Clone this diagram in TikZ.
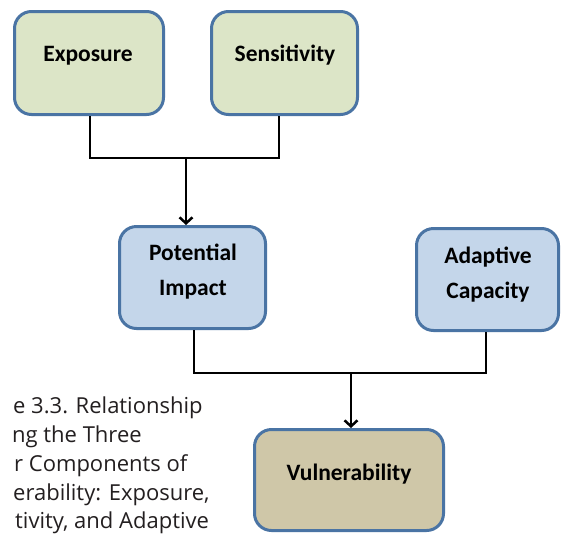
\documentclass[tikz,border=0pt]{standalone}
\usepackage{fontspec}
\setmainfont{Carlito}
\newfontfamily\capfont{Open Sans}
\usetikzlibrary{arrows.meta}
\definecolor{boxline}{HTML}{4A74A4}
\definecolor{greenfill}{HTML}{DCE5C7}
\definecolor{bluefill}{HTML}{C4D6EA}
\definecolor{tanfill}{HTML}{CFC7A8}
\definecolor{captext}{HTML}{231F20}
\begin{document}
\begin{tikzpicture}[x=1pt,y=-1pt,
  box/.style={draw=boxline, line width=3pt, rounded corners=17pt, inner sep=0pt},
  greenbox/.style={box, fill=greenfill},
  bluebox/.style={box, fill=bluefill},
  tanbox/.style={box, fill=tanfill},
  lbl/.style={font=\fontsize{23.5}{28}\selectfont\bfseries, anchor=base, inner sep=0pt},
  captxt/.style={font=\capfont\fontsize{22}{24}\selectfont, anchor=base west, inner sep=0pt, text=captext},
  conn/.style={draw=black, line width=2.5pt, line join=miter},
  arr/.style={conn, -{Straight Barb[length=6pt,width=13pt]}}]
\useasboundingbox (0,0) rectangle (561,533);
\fill[white] (0,0) rectangle (561,533);

% boxes
\node[greenbox, minimum width=149pt, minimum height=103pt] (exp) at (89,63) {};
\node[greenbox, minimum width=146pt, minimum height=103pt] (sen) at (284.5,63) {};
\node[bluebox, minimum width=146pt, minimum height=102pt] (pot) at (192.5,277.5) {};
\node[bluebox, minimum width=142pt, minimum height=102pt] (ada) at (487.5,279.5) {};
\node[tanbox, minimum width=189pt, minimum height=101pt] (vul) at (349,480) {};

% labels
\node[lbl] (expt) at (88,61) {Exposure};
\node[lbl] (sent) at (285,61) {Sensitivity};
\node[lbl] (pott1) at (193,260) {Potential};
\node[lbl] (pott2) at (193,295) {Impact};
\node[lbl] (adat1) at (488,263) {Adaptive};
\node[lbl] (adat2) at (488,298) {Capacity};
\node[lbl] (vult) at (349,480) {Vulnerability};

% connectors
\draw[conn] ([xshift=1pt]exp.south) -- ++(0,42) -| ([xshift=-5.5pt]sen.south);
\coordinate (j1) at (186,158);
\draw[arr] (j1) -- (j1 |- pot.north);
\draw[conn] ([xshift=1.5pt]pot.south) -- ++(0,43) -| ([xshift=-1.5pt]ada.south);
\coordinate (j2) at (351,373);
\draw[arr] (j2) -- (j2 |- vul.north);

% caption fragments
\node[captxt] (c1) at (13,413) {e 3.3. Relationship};
\node[captxt] (c2) at (12,442) {ng the Three};
\node[captxt] (c3) at (14,471) {r Components of};
\node[captxt] (c4) at (13,500) {erability: Exposure,};
\node[captxt] (c5) at (15,528) {tivity, and Adaptive};
\end{tikzpicture}
\end{document}
